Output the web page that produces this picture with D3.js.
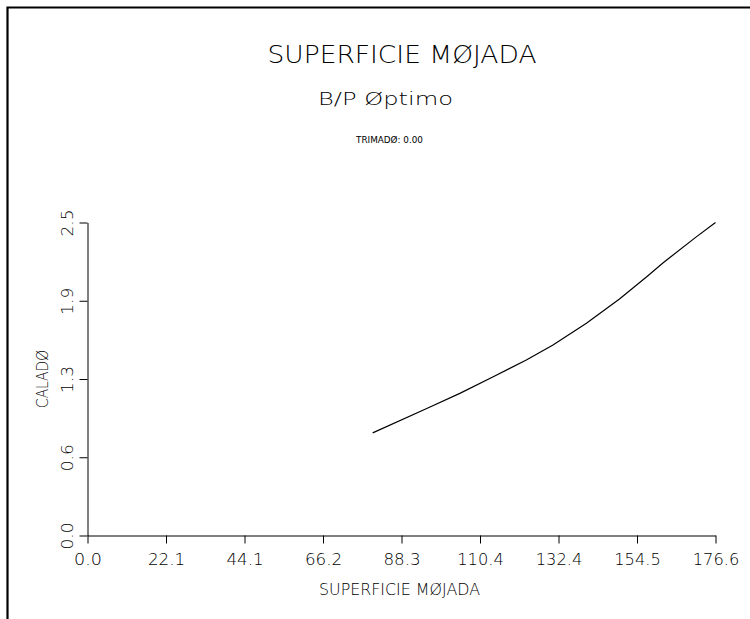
<!DOCTYPE html>
<html>
<head>
<meta charset="utf-8">
<script src="https://cdn.jsdelivr.net/npm/d3@7"></script>
<style>
  html, body { margin: 0; padding: 0; background: #fff; }
  svg { display: block; }
  text { font-family: "DejaVu Sans", sans-serif; font-weight: 200; fill: #000; }
</style>
</head>
<body>
<script>
// Wetted surface (x) against draft (y)
const superficie = [80.2, 95.4, 104.7, 114.1, 123.4, 130.9, 140.3, 149.6, 157.6, 161.8, 171.2, 176.6];
const calado     = [0.82, 1.015, 1.135, 1.268, 1.402, 1.522, 1.696, 1.889, 2.075, 2.177, 2.385, 2.5];

const xTicks = [0, 22.075, 44.15, 66.225, 88.3, 110.375, 132.45, 154.525, 176.6];
const xTickLabels = ["0.0", "22.1", "44.1", "66.2", "88.3", "110.4", "132.4", "154.5", "176.6"];
const yTicks = [0, 0.625, 1.25, 1.875, 2.5];
const yTickLabels = ["0.0", "0.6", "1.3", "1.9", "2.5"];

const W = 750, H = 619;
const svg = d3.select("body").append("svg").attr("width", W).attr("height", H);

// Page frame: top and left edges only
svg.append("path")
  .attr("d", "M7.5,619 V7.5 H750")
  .attr("fill", "none").attr("stroke", "#000").attr("stroke-width", 2.2);

const x = d3.scaleLinear().domain([0, 176.6]).range([87.5, 715.5]);
const y = d3.scaleLinear().domain([0, 2.5]).range([535.5, 222.5]);

function label(sel, size, len) {
  return sel.attr("font-size", size).attr("textLength", len).attr("lengthAdjust", "spacingAndGlyphs");
}

// Titles
label(svg.append("text").attr("x", 402).attr("y", 63).attr("text-anchor", "middle"), 25, 269)
  .text("SUPERFICIE MØJADA");
label(svg.append("text").attr("x", 385.5).attr("y", 105).attr("text-anchor", "middle"), 18, 135)
  .text("B/P Øptimo");
label(svg.append("text").attr("x", 389.5).attr("y", 143).attr("text-anchor", "middle")
  .style("font-weight", 400), 9, 67)
  .text("TRIMADØ: 0.00");

// X axis
const gx = svg.append("g").attr("transform", `translate(0,${y(0)})`)
  .call(d3.axisBottom(x).tickValues(xTicks)
    .tickFormat((d, i) => xTickLabels[i]).tickSize(8).tickSizeOuter(0));
gx.selectAll("path, line").attr("stroke", "#000");
gx.selectAll("text").attr("y", 29.5).attr("dy", 0).attr("font-family", null)
  .attr("font-size", 16)
  .attr("textLength", (d, i) => xTickLabels[i].length * 9.3)
  .attr("lengthAdjust", "spacingAndGlyphs");

// Y axis
const gy = svg.append("g").attr("transform", `translate(${x(0)},0)`)
  .call(d3.axisLeft(y).tickValues(yTicks)
    .tickFormat((d, i) => yTickLabels[i]).tickSize(8).tickSizeOuter(0));
gy.selectAll("path, line").attr("stroke", "#000");
gy.selectAll("text").attr("transform", "rotate(-90)")
  .attr("x", 0).attr("y", -15).attr("dy", 0).attr("text-anchor", "middle")
  .attr("font-family", null).attr("font-size", 15)
  .attr("textLength", (d, i) => yTickLabels[i].length * 9)
  .attr("lengthAdjust", "spacingAndGlyphs");

// Axis titles
label(svg.append("text").attr("x", 399.5).attr("y", 595).attr("text-anchor", "middle"), 16.5, 161)
  .text("SUPERFICIE MØJADA");
label(svg.append("text")
  .attr("transform", `translate(47.5,${(y(0) + y(2.5)) / 2}) rotate(-90)`)
  .attr("text-anchor", "middle"), 15, 58)
  .text("CALADØ");

// Curve
const pts = superficie.map((s, i) => [s, calado[i]]);
svg.append("path").datum(pts)
  .attr("fill", "none").attr("stroke", "#000").attr("stroke-width", 1.2)
  .attr("d", d3.line().x(d => x(d[0])).y(d => y(d[1])));
</script>
</body>
</html>
